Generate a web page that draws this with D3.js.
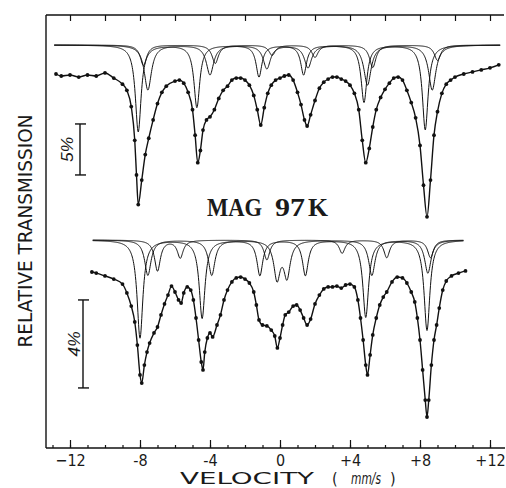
<!DOCTYPE html>
<html>
<head>
	<meta charset="utf-8">
	<title>MAG 97 K</title>
	<script src="https://d3js.org/d3.v7.min.js"></script>
</head>
<style type="text/css">
	body {margin:0; background:#fff;}
	text {fill:#1a1a1a;}
</style>
<body>
</body>
</html>
<script type="text/javascript">
	var width = 506, height = 488;

	// velocity axis ticks (mm/s)
	var majorTicks = [-12, -8, -4, 0, 4, 8, 12];
	var tickLabels = ["\u221212", "-8", "-4", "0", "+4", "+8", "+12"];

	// upper spectrum: measured points, absorption in % below the baseline
	var topVel = [-12.8,-12.5,-12,-11.5,-11,-10.5,-10,-9.5,-9,-8.75,-8.5,-8.3,-8.2,-8.1,-7.9,-7.7,-7.5,-7.25,-7,-6.75,-6.5,-6,-5.75,-5.5,-5.25,-5,-4.85,-4.7,-4.55,-4.4,-4.2,-4,-3.75,-3.5,-3.25,-3,-2.75,-2.5,-2.25,-2,-1.75,-1.5,-1.3,-1.1,-0.9,-0.7,-0.5,-0.25,0,0.25,0.5,0.75,1,1.2,1.4,1.55,1.75,2,2.25,2.5,2.75,3,3.25,3.5,3.75,4,4.25,4.5,4.7,4.9,5.1,5.3,5.5,5.75,6,6.25,6.5,6.75,7,7.25,7.5,7.75,8,8.2,8.4,8.6,8.8,9,9.25,9.5,9.75,10,10.5,11,11.5,12,12.5];
	var topAbs = [-0.1,0.1,0.0,0.2,0.0,0.1,-0.2,0.3,0.9,1.5,3.1,6.4,9.8,12.7,10.3,7.8,6.2,4.4,2.8,1.7,1.1,0.6,0.5,0.8,1.7,3.4,5.9,8.6,7.4,5.4,4.4,4.1,3.4,2.3,1.5,1.1,0.5,0.3,0.3,0.5,1.0,2.0,3.4,4.9,3.2,1.8,1.0,0.5,0.3,0.1,0.0,0.5,1.7,2.9,4.4,5.0,3.9,2.5,1.3,0.7,0.4,0.2,0.2,0.4,0.6,1.0,1.8,3.4,6.4,8.6,7.2,5.1,3.4,2.2,1.4,0.8,0.3,0.2,0.5,1.5,2.7,4.2,6.9,10.8,13.9,10.3,5.9,3.6,1.8,0.9,0.5,0.2,-0.1,-0.3,-0.5,-0.7,-1.0];

	// upper spectrum: fitted sub-spectra (six line positions, depths in %, half width)
	var topSubPos = [
		[-8.1, -4.75, -1.2, 1.35, 4.8, 8.3],
		[-7.55, -4.0, -0.75, 1.6, 5.0, 8.7],
		[-7.8, -3.7, -0.45, 2.0, 5.3, 9.0]
	];
	var topSubDepth = [
		[8.5, 6.1, 3.1, 2.9, 5.6, 8.3],
		[4.4, 2.9, 2.3, 2.2, 3.9, 4.4],
		[2.0, 1.8, 1.0, 1.2, 2.2, 1.5]
	];
	var topSubWidth = [0.2, 0.25, 0.22];

	// lower spectrum: measured points
	var botVel = [-10.75,-10.5,-10,-9.5,-9,-8.75,-8.5,-8.3,-8.15,-8,-7.9,-7.75,-7.6,-7.45,-7.2,-7,-6.8,-6.6,-6.4,-6.2,-6,-5.8,-5.65,-5.5,-5.3,-5.1,-4.95,-4.8,-4.65,-4.5,-4.4,-4.3,-4.15,-4,-3.85,-3.6,-3.4,-3.2,-3,-2.75,-2.5,-2.25,-2,-1.75,-1.5,-1.35,-1.2,-1,-0.75,-0.5,-0.3,-0.15,0,0.15,0.3,0.5,0.75,0.95,1.15,1.35,1.55,1.75,2,2.25,2.5,2.75,3,3.25,3.5,3.75,4,4.25,4.45,4.6,4.75,4.9,5,5.15,5.3,5.5,5.7,5.9,6.1,6.4,6.7,7,7.25,7.5,7.7,7.85,8,8.15,8.3,8.4,8.5,8.65,8.8,8.95,9.1,9.3,9.5,9.8,10.2,10.6];
	var botAbs = [0.0,0.05,0.18,0.32,0.55,0.95,1.55,2.27,3.32,4.68,5.05,4.23,3.64,3.23,2.77,2.5,1.95,1.45,1.05,0.64,0.91,1.27,1.41,0.95,0.68,0.82,1.27,2.09,3.09,4.09,4.45,3.64,3.0,2.77,2.95,2.41,1.95,1.27,0.82,0.45,0.27,0.23,0.32,0.5,0.91,1.5,2.18,2.41,2.45,2.64,2.91,3.45,3.0,2.41,1.95,1.82,1.55,1.5,1.73,2.09,2.41,2.14,1.45,1.05,0.77,0.68,0.68,0.64,0.73,0.59,0.55,0.68,1.27,2.09,3.09,4.23,4.68,3.77,2.86,2.09,1.5,1.14,0.91,0.45,0.23,0.27,0.5,0.91,1.36,2.09,3.09,4.45,5.82,6.59,5.82,4.23,3.09,2.41,1.64,0.82,0.41,0.18,0.05,-0.05];

	// lower spectrum: fitted sub-spectra
	var botSubPos = [
		[-8.0, -4.45, -1.15, 1.45, 4.9, 8.4],
		[-7.55, -3.9, -0.17, 0.4, 5.25, 8.45],
		[-7.0, -5.7, -0.75, 3.55, 6.1, 8.6]
	];
	var botSubDepth = [
		[4.45, 3.55, 1.6, 1.6, 3.5, 4.1],
		[1.6, 1.6, 1.7, 1.6, 1.6, 1.5],
		[1.4, 0.8, 0.9, 0.6, 0.8, 0.8]
	];
	var botSubWidth = [0.2, 0.22, 0.2];

	var svg = d3.select("body").append("svg").attr("width", width).attr("height", height);

	var x = d3.scaleLinear().domain([-12, 12]).range([70, 490]);
	var yTop = d3.scaleLinear().domain([0, 10]).range([75, 177]);
	var yTopSub = d3.scaleLinear().domain([0, 10]).range([45, 147]);
	var yBot = d3.scaleLinear().domain([0, 5]).range([272, 382]);
	var yBotSub = d3.scaleLinear().domain([0, 5]).range([240, 350]);

	var yAxisPos = 46, xAxisPos = 448, topAxisPos = 15;
	var thinFont = "'Liberation Sans Narrow', 'DejaVu Sans Condensed', sans-serif";

	// frame
	svg.append("line").attr("x1", yAxisPos).attr("x2", yAxisPos).attr("y1", topAxisPos).attr("y2", xAxisPos)
		.attr("stroke", "#111").attr("stroke-width", 1.4);
	svg.append("line").attr("x1", yAxisPos).attr("x2", 505).attr("y1", xAxisPos).attr("y2", xAxisPos)
		.attr("stroke", "#111").attr("stroke-width", 1.5);
	svg.append("line").attr("x1", yAxisPos).attr("x2", 504).attr("y1", topAxisPos).attr("y2", topAxisPos)
		.attr("stroke", "#111").attr("stroke-width", 1.4);

	// bottom axis, ticks pointing inward
	var bottom = svg.append("g").attr("transform", "translate(0," + xAxisPos + ")");
	bottom.append("g").call(d3.axisBottom(x).tickValues(d3.range(-13, 13.5, 1)).tickSizeInner(-3).tickSizeOuter(0).tickFormat(""))
		.call(function(g){ g.select(".domain").remove(); });
	bottom.append("g").call(d3.axisBottom(x).tickValues(majorTicks).tickSizeInner(-8).tickSizeOuter(0).tickPadding(7)
			.tickFormat(function(d, i){ return tickLabels[i]; }))
		.call(function(g){ g.select(".domain").remove(); })
		.selectAll("text")
		.attr("font-family", thinFont)
		.attr("font-size", 16).attr("fill", "#2a2a2a");
	bottom.selectAll("line").attr("stroke", "#111").attr("stroke-width", 1.2);

	// top axis ticks
	svg.append("g").attr("transform", "translate(0," + topAxisPos + ")")
		.call(d3.axisTop(x).tickValues(d3.range(-12, 13, 2)).tickSizeInner(-6).tickSizeOuter(0).tickFormat(""))
		.call(function(g){ g.select(".domain").remove(); })
		.selectAll("line").attr("stroke", "#111").attr("stroke-width", 1.2);

	// axis titles
	svg.append("text").attr("transform", "translate(32,231) rotate(-90)")
		.attr("text-anchor", "middle").attr("textLength", 233).attr("lengthAdjust", "spacingAndGlyphs")
		.attr("font-family", thinFont).attr("fill", "#2a2a2a")
		.attr("font-size", 20).text("RELATIVE TRANSMISSION");

	var xt = svg.append("g").attr("font-family", thinFont).attr("font-size", 16).attr("fill", "#2a2a2a");
	xt.append("text").attr("x", 180).attr("y", 484).attr("textLength", 134).attr("lengthAdjust", "spacingAndGlyphs").text("VELOCITY");
	xt.append("text").attr("x", 332).attr("y", 484).text("(");
	xt.append("text").attr("x", 351).attr("y", 484).attr("font-style", "italic").attr("textLength", 30).attr("lengthAdjust", "spacingAndGlyphs").text("mm/s");
	xt.append("text").attr("x", 390).attr("y", 484).text(")");

	// sample title
	var tt = svg.append("g").attr("font-family", "'Liberation Serif', 'DejaVu Serif', serif")
		.attr("font-weight", "bold").attr("font-size", 25);
	tt.append("text").attr("x", 207).attr("y", 216).attr("textLength", 55).attr("lengthAdjust", "spacingAndGlyphs").text("MAG");
	tt.append("text").attr("x", 275).attr("y", 216).attr("textLength", 30).attr("lengthAdjust", "spacingAndGlyphs").text("97");
	tt.append("text").attr("x", 308).attr("y", 216).attr("textLength", 20).attr("lengthAdjust", "spacingAndGlyphs").text("K");

	// scale bars
	function scaleBar(ys, a0, a1, xb, label, lx) {
		var g = svg.append("g").attr("stroke", "#111").attr("stroke-width", 1.4);
		g.append("line").attr("x1", xb).attr("x2", xb).attr("y1", ys(a0)).attr("y2", ys(a1));
		g.append("line").attr("x1", xb - 5).attr("x2", xb + 6).attr("y1", ys(a0)).attr("y2", ys(a0));
		g.append("line").attr("x1", xb - 5).attr("x2", xb + 6).attr("y1", ys(a1)).attr("y2", ys(a1));
		svg.append("text").attr("transform", "translate(" + lx + "," + ((ys(a0) + ys(a1)) / 2) + ") rotate(-90)")
			.attr("text-anchor", "middle").attr("font-family", "'Liberation Sans', sans-serif")
			.attr("font-style", "italic").attr("font-size", 16).attr("textLength", 25).attr("lengthAdjust", "spacingAndGlyphs")
			.text(label);
	}
	scaleBar(yTop, 4.8, 9.8, 80, "5%", 73);
	scaleBar(yBot, 1.27, 5.27, 83, "4%", 80);

	// sub-spectra
	function lorentz(v, pos, dep, w) {
		var s = 0;
		for (var i = 0; i < pos.length; i++) s += dep[i] * w * w / ((v - pos[i]) * (v - pos[i]) + w * w);
		return s;
	}
	function drawSubs(ys, posList, depList, widList, v0, v1) {
		var grid = d3.range(v0, v1, 0.02);
		posList.forEach(function(pos, k) {
			var line = d3.line()
				.x(function(v){ return x(v); })
				.y(function(v){ return ys(lorentz(v, pos, depList[k], widList[k])); });
			svg.append("path").datum(grid).attr("d", line)
				.attr("fill", "none").attr("stroke", "#111").attr("stroke-width", 1);
		});
	}
	drawSubs(yTopSub, topSubPos, topSubDepth, topSubWidth, -12.9, 12.6);
	drawSubs(yBotSub, botSubPos, botSubDepth, botSubWidth, -10.7, 10.5);

	// measured spectra
	function drawSpectrum(ys, vel, abs) {
		var pts = d3.zip(vel, abs);
		var line = d3.line().curve(d3.curveMonotoneX)
			.x(function(d){ return x(d[0]); })
			.y(function(d){ return ys(d[1]); });
		svg.append("path").datum(pts).attr("d", line)
			.attr("fill", "none").attr("stroke", "#111").attr("stroke-width", 1.4);
		svg.append("g").selectAll("circle").data(pts).enter().append("circle")
			.attr("cx", function(d){ return x(d[0]); })
			.attr("cy", function(d){ return ys(d[1]); })
			.attr("r", 1.9).attr("fill", "#111");
	}
	drawSpectrum(yTop, topVel, topAbs);
	drawSpectrum(yBot, botVel, botAbs);
</script>
